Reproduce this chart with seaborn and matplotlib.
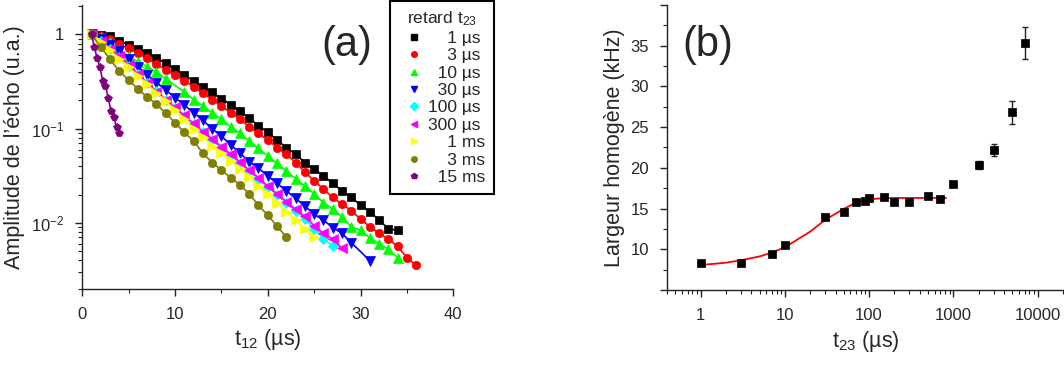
import numpy as np
import pandas as pd
import matplotlib
matplotlib.use("Agg")
import matplotlib.pyplot as plt
from matplotlib.lines import Line2D
from matplotlib.ticker import LogLocator, NullFormatter, MultipleLocator
import seaborn as sns

# (a) amplitude de l'echo vs t12, one curve per delay t23
t_1us = list(range(1, 35))
amp_1us = [1.0, 0.989, 0.955, 0.861, 0.776, 0.708, 0.631, 0.562, 0.495, 0.427,
           0.372, 0.320, 0.279, 0.243, 0.209, 0.180, 0.153, 0.129, 0.108, 0.0912,
           0.0759, 0.0631, 0.0537, 0.0437, 0.0372, 0.0316, 0.0263, 0.0219, 0.0186, 0.0155,
           0.0132, 0.0107, 0.0087, 0.0083]
t_3us = list(range(1, 37))
amp_3us = [1.0, 0.955, 0.891, 0.794, 0.716, 0.631, 0.556, 0.484, 0.422, 0.372,
           0.324, 0.279, 0.240, 0.204, 0.174, 0.148, 0.126, 0.105, 0.0891, 0.0759,
           0.0631, 0.0537, 0.0437, 0.0347, 0.0279, 0.0229, 0.0186, 0.0158, 0.0135, 0.0110,
           0.00912, 0.00776, 0.00676, 0.00562, 0.00427, 0.00355]
t_10us = list(range(1, 10)) + list(range(11, 35))
amp_10us = [1.0, 0.933, 0.832, 0.692, 0.589, 0.513, 0.457, 0.398, 0.339,
            0.245, 0.204, 0.174, 0.148, 0.126, 0.105, 0.0891, 0.0741, 0.0617, 0.0513,
            0.0427, 0.0355, 0.0295, 0.0245, 0.0204, 0.0164, 0.0141, 0.0115, 0.00912, 0.00832,
            0.00692, 0.00603, 0.00525, 0.00427]
t_30us = list(range(1, 30)) + [31]
amp_30us = [1.0, 0.891, 0.776, 0.661, 0.550, 0.457, 0.372, 0.309, 0.257, 0.214,
            0.178, 0.148, 0.123, 0.100, 0.0832, 0.0676, 0.0550, 0.0447, 0.0380, 0.0316,
            0.0263, 0.0219, 0.0182, 0.0151, 0.0123, 0.0107, 0.00891, 0.00776, 0.00617,
            0.00398]
t_100us = list(range(1, 28))
amp_100us = [1.0, 0.851, 0.708, 0.575, 0.468, 0.380, 0.309, 0.251, 0.204, 0.166,
             0.135, 0.111, 0.0912, 0.0759, 0.0631, 0.0525, 0.0427, 0.0355, 0.0288, 0.0240,
             0.0200, 0.0162, 0.0135, 0.0110, 0.00871, 0.00676, 0.00575]
t_300us = list(range(1, 29))
amp_300us = [1.0, 0.851, 0.708, 0.589, 0.479, 0.380, 0.305, 0.248, 0.204, 0.168,
             0.138, 0.114, 0.0933, 0.0776, 0.0646, 0.0537, 0.0442, 0.0363, 0.0302, 0.0245,
             0.0204, 0.0168, 0.0140, 0.0117, 0.00933, 0.00776, 0.00676, 0.00537]
t_1ms = list(range(1, 26))
amp_1ms = [1.0, 0.832, 0.676, 0.550, 0.447, 0.363, 0.295, 0.240, 0.195, 0.158,
           0.126, 0.100, 0.0813, 0.0661, 0.0550, 0.0457, 0.0372, 0.0309, 0.0245, 0.0204,
           0.0164, 0.0129, 0.0107, 0.00851, 0.00708]
t_3ms = list(range(1, 23))
amp_3ms = [1.0, 0.733, 0.543, 0.407, 0.329, 0.263, 0.217, 0.182, 0.146, 0.116,
           0.0912, 0.0741, 0.0550, 0.0437, 0.0363, 0.0302, 0.0254, 0.0204, 0.0153, 0.0121,
           0.00923, 0.00708]
t_15ms = [1.0, 1.3, 1.6, 1.9, 2.2, 2.5, 2.8, 3.1, 3.4, 3.7, 4.0]
amp_15ms = [1.0, 0.74, 0.556, 0.454, 0.32, 0.283, 0.213, 0.154, 0.132, 0.103, 0.089]

# numbers padded with figure spaces so the digits line up like the original legend
labels_a = ["\u2007\u20071 µs", "\u2007\u20073 µs", "\u200710 µs", "\u200730 µs", "100 µs",
            "300 µs", "\u2007\u20071 ms", "\u2007\u20073 ms", "\u200715 ms"]
colors_a = ["#000000", "#ff0000", "#00ff00", "#0000ff", "#00ffff",
            "#ff00ff", "#ffff00", "#808000", "#800080"]
markers_a = ["s", "o", "^", "v", "D", "<", ">", "o", "p"]

# (b) largeur homogene vs t23
t23_b = [1, 3, 7, 10, 30, 50, 70, 90, 100, 150, 200, 300, 500, 700, 1000, 2000, 3000, 5000, 7000]
width_b = [8.31, 8.35, 9.42, 10.53, 13.93, 14.59, 15.78, 15.94, 16.3, 16.47,
           15.86, 15.78, 16.6, 16.19, 17.99, 20.33, 22.2, 26.8, 35.28]
err_b = [0, 0, 0, 0, 0, 0, 0, 0, 0, 0, 0, 0, 0, 0, 0, 0.5, 0.74, 1.37, 1.97]
fit_t23 = [1, 2, 3, 5, 7, 10, 15, 20, 30, 40, 50, 70, 100, 150, 200, 300, 500, 820]
fit_width = [8.07, 8.35, 8.65, 9.12, 9.59, 10.25, 11.37, 12.17, 13.6, 14.37, 14.96,
             15.73, 16.15, 16.27, 16.3, 16.3, 16.3, 16.3]

sns.set_style("ticks")
plt.rcParams["font.family"] = ["Liberation Sans", "DejaVu Sans"]
plt.rcParams["mathtext.default"] = "regular"

fig = plt.figure(figsize=(10.64, 3.65), dpi=100)
ax = fig.add_axes([0.0773, 0.209, 0.3487, 0.777])
axb = fig.add_axes([0.627, 0.2055, 0.3727, 0.781])

series_a = [(t_1us, amp_1us), (t_3us, amp_3us), (t_10us, amp_10us), (t_30us, amp_30us),
            (t_100us, amp_100us), (t_300us, amp_300us), (t_1ms, amp_1ms),
            (t_3ms, amp_3ms), (t_15ms, amp_15ms)]

for (t, a), c, m in zip(series_a, colors_a, markers_a):
    ms = 7.0 if m in "^v<>" else (5.2 if m == "D" else 6.0)
    sns.lineplot(x=t, y=a, ax=ax, color=c, marker=m, markersize=ms,
                 markeredgecolor=c, markeredgewidth=0.5, linewidth=1.2, legend=False)

ax.set_yscale("log")
ax.set_xlim(0, 40)
ax.set_ylim(0.002, 2.05)
ax.xaxis.set_major_locator(MultipleLocator(10))
ax.xaxis.set_minor_locator(MultipleLocator(5))
ax.set_yticks([1, 0.1, 0.01], labels=["1", "10$^{-1}$", "10$^{-2}$"])
ax.yaxis.set_minor_locator(LogLocator(base=10, subs=np.arange(2, 10)))
ax.yaxis.set_minor_formatter(NullFormatter())
ax.set_xlabel("t$_{12}$ (µs)", fontsize=15.5)
ax.set_ylabel("Amplitude de l’écho (u.a.)", fontsize=15.5)
ax.text(0.713, 0.859, "(a)", transform=ax.transAxes, fontsize=30, ha="center", va="center")

handles = [Line2D([], [], color=c, marker=m, linestyle="none",
                  markersize=5 if m in "^v<>" else 4, markeredgecolor=c)
           for c, m in zip(colors_a, markers_a)]
leg = ax.legend(handles, labels_a, title="retard t$_{23}$", loc="upper right",
                bbox_to_anchor=(494 / 1064, 1 - 1 / 365), bbox_transform=fig.transFigure,
                frameon=True, fancybox=False, edgecolor="black", framealpha=1,
                fontsize=12.5, title_fontsize=12.5, handlelength=1.8, handletextpad=-0.1,
                labelspacing=0.13, borderpad=0.5, borderaxespad=0)
leg.get_frame().set_linewidth(1.5)

# fit curve + points for (b)
sns.lineplot(x=fit_t23, y=fit_width, ax=axb, color="#ff0000", linewidth=1.3, legend=False)
axb.errorbar(t23_b, width_b, yerr=err_b, fmt="none", ecolor="#222222", elinewidth=1,
             capsize=2.5, capthick=1)
sns.scatterplot(x=t23_b, y=width_b, ax=axb, marker="s", color="black", s=40,
                edgecolor="black", linewidth=0.5, zorder=3, legend=False)
axb.set_xscale("log")
axb.set_xlim(0.4, 2.04e4)
axb.set_ylim(5, 40)
axb.set_xticks([1, 10, 100, 1000, 10000], labels=["1", "10", "100", "1000", "10000"])
axb.xaxis.set_minor_locator(LogLocator(base=10, subs=np.arange(2, 10), numticks=20))
axb.xaxis.set_minor_formatter(NullFormatter())
axb.set_yticks([5, 10, 15, 20, 25, 30, 35, 40], labels=["", "10", "15", "20", "25", "30", "35", ""])
axb.yaxis.set_minor_locator(MultipleLocator(2.5))
axb.set_xlabel("t$_{23}$ (µs)", fontsize=15.5)
axb.set_ylabel("Largeur homogène (kHz)", fontsize=15.5)
axb.text(0.103, 0.86, "(b)", transform=axb.transAxes, fontsize=30, ha="center", va="center")

for a_ in (ax, axb):
    sns.despine(ax=a_)
    for s in ("left", "bottom"):
        a_.spines[s].set_color("#222222")
        a_.spines[s].set_linewidth(1.0)
    a_.tick_params(which="major", direction="out", length=5, width=1, labelsize=12,
                   color="#222222", pad=8)
    a_.tick_params(which="minor", direction="out", length=3, width=0.8, color="#222222")

fig.savefig("out.png", dpi=100)
